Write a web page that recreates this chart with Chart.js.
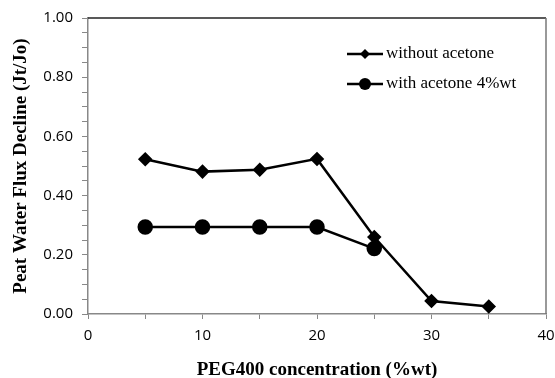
<!DOCTYPE html>
<html>
<head>
<meta charset="utf-8">
<script src="https://cdn.jsdelivr.net/npm/chart.js@4"></script>
<style>
  html, body { margin: 0; padding: 0; background: #fff; }
  #wrap { width: 555px; height: 378px; }
</style>
</head>
<body>
<div id="wrap"><canvas id="chart" width="555" height="378"></canvas></div>
<script>
// PEG400 concentration (%wt)
const pegConc = [5, 10, 15, 20, 25, 30, 35];
const withoutAcetone = [0.523, 0.481, 0.487, 0.524, 0.26, 0.044, 0.025];

const pegConcAcetone = [5, 10, 15, 20, 25];
const withAcetone = [0.294, 0.294, 0.294, 0.294, 0.221];

const seriesLabels = ['without acetone', 'with acetone 4%wt'];

const serif = '"Liberation Serif", "Times New Roman", serif';
const sans = '"Open Sans", "DejaVu Sans", sans-serif';

// frame on top/right + legend with line-and-marker swatches
const framePlugin = {
    id: 'frame',
    afterDraw(chart) {
        const { ctx, chartArea: a } = chart;
        ctx.save();
        ctx.lineWidth = 1.5;
        ctx.strokeStyle = '#222';
        ctx.beginPath();
        ctx.moveTo(a.left, a.top);
        ctx.lineTo(a.right, a.top);
        ctx.stroke();
        ctx.strokeStyle = '#777';
        ctx.beginPath();
        ctx.moveTo(a.right, a.top);
        ctx.lineTo(a.right, a.bottom);
        ctx.stroke();

        // legend
        const x0 = a.left + 259, rows = [a.top + 36, a.top + 66];
        rows.forEach((y, i) => {
            ctx.strokeStyle = '#000';
            ctx.lineWidth = 2.5;
            ctx.beginPath();
            ctx.moveTo(x0, y);
            ctx.lineTo(x0 + 36, y);
            ctx.stroke();
            ctx.fillStyle = '#000';
            ctx.beginPath();
            if (i === 0) {
                ctx.moveTo(x0 + 18, y - 5);
                ctx.lineTo(x0 + 23, y);
                ctx.lineTo(x0 + 18, y + 5);
                ctx.lineTo(x0 + 13, y);
            } else {
                ctx.arc(x0 + 18, y, 6, 0, Math.PI * 2);
            }
            ctx.fill();
            ctx.font = '17px ' + serif;
            ctx.textBaseline = 'middle';
            ctx.fillText(seriesLabels[i], x0 + 39, y);
        });
        ctx.restore();
    }
};

new Chart(document.getElementById('chart'), {
    type: 'line',
    data: {
        datasets: [{
            label: seriesLabels[0],
            data: pegConc.map((x, i) => ({ x: x, y: withoutAcetone[i] })),
            borderColor: '#000',
            backgroundColor: '#000',
            borderWidth: 2.5,
            pointStyle: 'rectRot',
            pointRadius: 5.5,
            tension: 0
        }, {
            label: seriesLabels[1],
            data: pegConcAcetone.map((x, i) => ({ x: x, y: withAcetone[i] })),
            borderColor: '#000',
            backgroundColor: '#000',
            borderWidth: 2.5,
            pointStyle: 'circle',
            pointRadius: 6.5,
            tension: 0
        }]
    },
    options: {
        responsive: false,
        animation: false,
        layout: { padding: { top: 17, right: 0, left: 0, bottom: 0 } },
        plugins: {
            legend: { display: false },
            tooltip: { enabled: false }
        },
        scales: {
            x: {
                type: 'linear',
                min: 0,
                max: 40,
                ticks: {
                    stepSize: 5,
                    autoSkip: false,
                    maxRotation: 0,
                    color: '#000',
                    font: { family: sans, size: 15 },
                    padding: 8,
                    callback: v => (v % 10 === 0 ? v : '')
                },
                grid: {
                    drawOnChartArea: false,
                    drawTicks: true,
                    tickLength: 5,
                    color: '#888'
                },
                border: { color: '#888', width: 1.5 },
                title: {
                    display: true,
                    text: 'PEG400 concentration (%wt)',
                    color: '#000',
                    font: { family: serif, size: 19, weight: 'bold' },
                    padding: { top: 0, bottom: -3 }
                },
                afterFit(scale) {
                    scale.height = 64;
                    scale.paddingRight = 8;
                }
            },
            y: {
                min: 0,
                max: 1,
                ticks: {
                    stepSize: 0.05,
                    autoSkip: false,
                    color: '#000',
                    font: { family: sans, size: 15 },
                    padding: 9,
                    callback: v => {
                        const r = Math.round(v * 100);
                        return r % 20 === 0 ? (r / 100).toFixed(2) : '';
                    }
                },
                grid: {
                    drawOnChartArea: false,
                    drawTicks: true,
                    tickLength: 6,
                    color: '#888'
                },
                border: { color: '#888', width: 1.5 },
                title: {
                    display: true,
                    text: 'Peat Water Flux Decline (Jt/Jo)',
                    color: '#000',
                    font: { family: serif, size: 19, weight: 'bold' },
                    padding: { top: 10, bottom: 0 }
                },
                afterFit(scale) { scale.width = 88; }
            }
        }
    },
    plugins: [framePlugin]
});
</script>
</body>
</html>
